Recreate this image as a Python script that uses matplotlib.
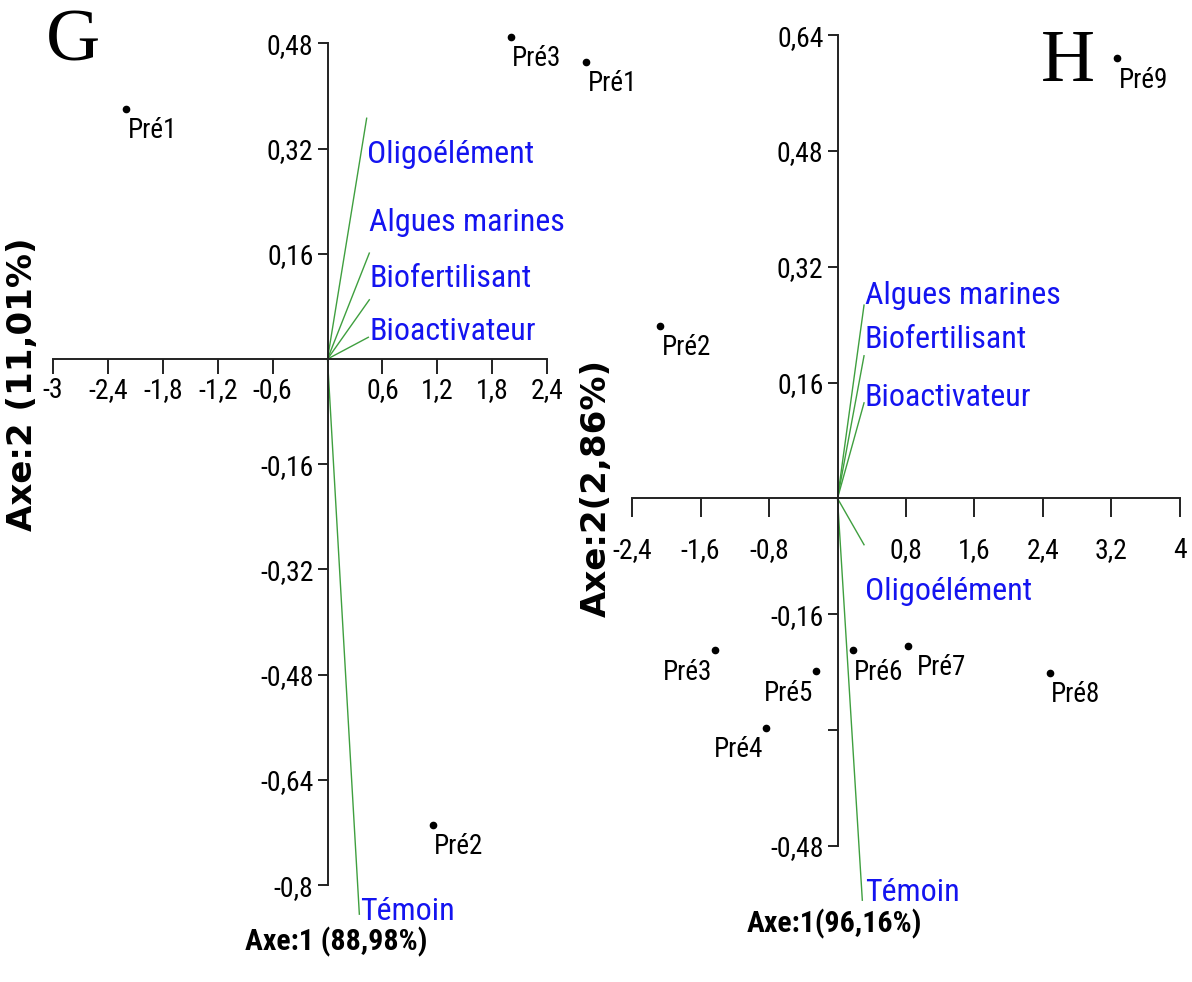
import matplotlib
matplotlib.use('Agg')
import matplotlib.pyplot as plt
from matplotlib import font_manager

W, H = 1192, 982

# fonts: the reference uses a narrow sans; pick the narrowest one installed
entries = font_manager.fontManager.ttflist
names = {f.name for f in entries}
NARROW, STRETCH, SHRINK = 'Liberation Sans', 'normal', 0.86
for cand in ['Liberation Sans Narrow', 'Roboto Condensed', 'Open Sans Condensed']:
    if cand in names:
        NARROW, STRETCH, SHRINK = cand, 'normal', 1.0
        break
else:
    if any(f.name == 'DejaVu Sans' and str(f.stretch) in ('condensed', '400', 'semi-condensed')
           for f in entries):
        NARROW, STRETCH, SHRINK = 'DejaVu Sans', 'condensed', 0.95
SERIF = 'Liberation Serif'

# ---- panel G data ----
g_pts = ['Pré1', 'Pré3', 'Pré1', 'Pré2']
g_x = [-2.20, 2.00, 2.83, 1.15]
g_y = [0.380, 0.490, 0.452, -0.708]

g_vars = ['Oligoélément', 'Algues marines', 'Biofertilisant', 'Bioactivateur', 'Témoin']
g_vx = [0.428, 0.457, 0.457, 0.446, 0.348]
g_vy = [0.366, 0.161, 0.090, 0.033, -0.844]

g_xticks = [-3, -2.4, -1.8, -1.2, -0.6, 0.6, 1.2, 1.8, 2.4]
g_yticks = [-0.8, -0.64, -0.48, -0.32, -0.16, 0.16, 0.32, 0.48]

# ---- panel H data ----
h_pts = ['Pré9', 'Pré2', 'Pré3', 'Pré5', 'Pré4', 'Pré6', 'Pré7', 'Pré8']
h_x = [3.27, -2.07, -1.43, -0.25, -0.84, 0.178, 0.825, 2.48]
h_y = [0.608, 0.238, -0.210, -0.239, -0.317, -0.210, -0.204, -0.241]

h_vars = ['Algues marines', 'Biofertilisant', 'Bioactivateur', 'Oligoélément', 'Témoin']
h_vx = [0.31, 0.31, 0.31, 0.31, 0.29]
h_vy = [0.267, 0.197, 0.132, -0.064, -0.555]

h_xticks = [-2.4, -1.6, -0.8, 0.8, 1.6, 2.4, 3.2, 4]
h_yticks = [-0.48, -0.32, -0.16, 0.16, 0.32, 0.48, 0.64]
h_ytick_hidden = [-0.32]

# label placement (text anchor in data units, baseline)
g_lab_x = [0.435, 0.457, 0.455, 0.455, 0.355]
g_lab_y = [0.298, 0.194, 0.110, 0.029, -0.853]
h_lab_x = [0.32, 0.32, 0.32, 0.32, 0.32]
h_lab_y = [0.269, 0.208, 0.127, -0.140, -0.556]

# point label side: 'r' = text to the right of dot, 'l' = to the left
g_side = ['r', 'r', 'r', 'r']
h_side = ['r', 'r', 'l', 'l', 'l', 'r', 'r', 'r']
h_dx = [1, 1, -2, -2, -2, 1, 6, 1]

GREEN = '#3f9f3f'
BLUE = '#1414f0'
AXC = '#222222'

TXT = dict(fontfamily=NARROW, fontstretch=STRETCH)


def fmt(v):
    return f'{v:g}'.replace('.', ',')


def make_axes(fig, ox, oy, sx, sy, xlim, ylim):
    x0 = ox + xlim[0] * sx
    x1 = ox + xlim[1] * sx
    ytop = oy - ylim[1] * sy
    ybot = oy - ylim[0] * sy
    ax = fig.add_axes([x0 / W, 1 - ybot / H, (x1 - x0) / W, (ybot - ytop) / H])
    ax.set_xlim(*xlim)
    ax.set_ylim(*ylim)
    ax.patch.set_alpha(0)
    return ax


def style_axes(ax, xticks, yticks, xlen, ylen, xpad, hidden=()):
    for s in ['top', 'right']:
        ax.spines[s].set_visible(False)
    for s in ['left', 'bottom']:
        ax.spines[s].set_position(('data', 0))
        ax.spines[s].set_color(AXC)
        ax.spines[s].set_linewidth(1.4)
    ax.spines['bottom'].set_bounds(min(xticks), max(xticks))
    ax.spines['left'].set_bounds(min(yticks), max(yticks))
    ax.set_xticks(xticks)
    ax.set_xticklabels([fmt(v) for v in xticks], fontsize=20 * SHRINK, **TXT)
    ax.set_yticks(yticks)
    ax.set_yticklabels(['' if v in hidden else fmt(v) for v in yticks],
                       fontsize=20 * SHRINK, **TXT)
    ax.tick_params(axis='x', direction='out', length=xlen, width=1.4, color=AXC, pad=xpad)
    ax.tick_params(axis='y', direction='out', length=ylen, width=1.4, color=AXC, pad=3)


def draw_panel(ax, pts, px, py, side, dxs, vars_, vx, vy, lx, ly):
    for i, (xv, yv) in enumerate(zip(vx, vy)):
        ax.plot([0, xv], [0, yv], color=GREEN, lw=1.0, clip_on=False, zorder=2)
        ax.text(lx[i], ly[i], vars_[i], color=BLUE, fontsize=23 * SHRINK,
                ha='left', va='baseline', clip_on=False, **TXT)
    ax.plot(px, py, 'o', color='black', ms=4.5, clip_on=False, zorder=3)
    for name, xv, yv, s, dx in zip(pts, px, py, side, dxs):
        ax.annotate(name, (xv, yv), xytext=(dx, -6), textcoords='offset points',
                    ha='left' if s == 'r' else 'right', va='top',
                    fontsize=19.5 * SHRINK, annotation_clip=False, **TXT)


fig = plt.figure(figsize=(W / 100, H / 100), dpi=100)

# panel G
axg = make_axes(fig, 327.5, 359, 91.5, 657.8, (-3.2, 3.3), (-0.9, 0.54))
style_axes(axg, g_xticks, g_yticks, 11, 7, 2)
draw_panel(axg, g_pts, g_x, g_y, g_side, [1] * len(g_pts),
           g_vars, g_vx, g_vy, g_lab_x, g_lab_y)

# panel H
axh = make_axes(fig, 837.5, 498.4, 85.6, 724, (-2.6, 4.1), (-0.62, 0.67))
style_axes(axh, h_xticks, h_yticks, 14, 7, 14, hidden=h_ytick_hidden)
draw_panel(axh, h_pts, h_x, h_y, h_side, h_dx,
           h_vars, h_vx, h_vy, h_lab_x, h_lab_y)

# axis titles
fig.text(336 / W, 1 - 942 / H, 'Axe:1 (88,98%)', ha='center', va='center',
         fontsize=21.5 * SHRINK, fontweight='bold', **TXT)
fig.text(834 / W, 1 - 924 / H, 'Axe:1(96,16%)', ha='center', va='center',
         fontsize=21.5 * SHRINK, fontweight='bold', **TXT)
fig.text(23 / W, 1 - 384 / H, 'Axe:2 (11,01%)', ha='center', va='center', rotation=90,
         fontsize=24.5, fontweight='bold', fontfamily='DejaVu Sans')
fig.text(596 / W, 1 - 488 / H, 'Axe:2(2,86%)', ha='center', va='center', rotation=90,
         fontsize=24.5, fontweight='bold', fontfamily='DejaVu Sans')

# panel letters
fig.text(73 / W, 1 - 43 / H, 'G', ha='center', va='center', fontsize=54, fontfamily=SERIF)
fig.text(1068 / W, 1 - 63 / H, 'H', ha='center', va='center', fontsize=54, fontfamily=SERIF)

fig.savefig('out.png', dpi=100)
